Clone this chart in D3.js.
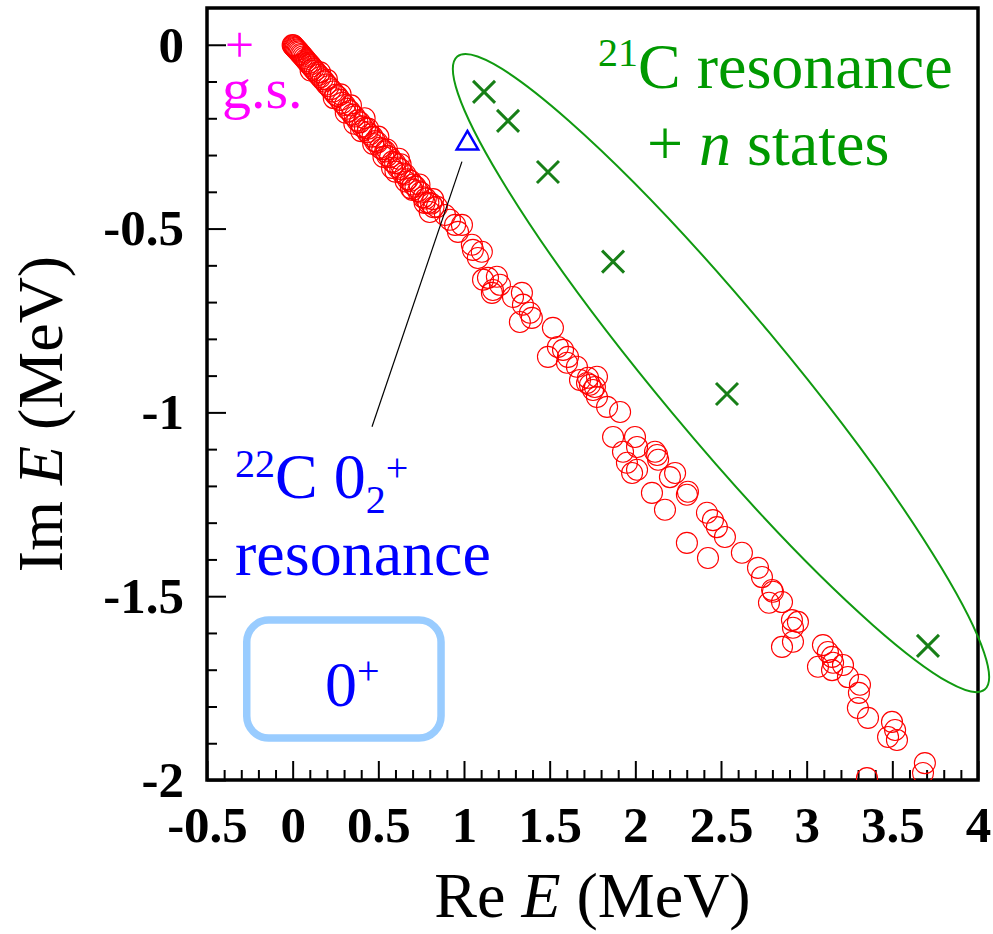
<!DOCTYPE html>
<html>
<head>
<meta charset="utf-8">
<script src="https://cdn.jsdelivr.net/npm/d3@7"></script>
<style>
    body { margin: 0; background: #fff; }
    text { font-family: "Liberation Serif", "Times New Roman", serif; }
</style>
</head>
<body>
<div id="chart"></div>
<script>
const width = 993
const height = 934

// discretized continuum (complex scaling) states, [Re E, Im E] in MeV
const continuum = [
    [0.000, -0.001], [0.003, -0.002], [0.006, -0.004], [0.010, -0.006], [0.014, -0.008], [0.018, -0.010],
    [0.023, -0.013], [0.028, -0.015], [0.034, -0.018], [0.040, -0.021], [0.046, -0.025], [0.053, -0.028],
    [0.060, -0.032], [0.067, -0.036], [0.075, -0.040], [0.083, -0.045], [0.092, -0.050], [0.101, -0.054],
    [0.110, -0.059], [0.120, -0.065], [0.130, -0.070], [0.140, -0.076], [0.151, -0.082], [0.162, -0.088],
    [0.174, -0.094], [0.186, -0.100], [0.198, -0.108], [0.210, -0.113], [0.223, -0.121], [0.236, -0.127],
    [0.250, -0.136], [0.262, -0.140], [0.277, -0.150], [0.290, -0.158], [0.305, -0.164], [0.318, -0.174],
    [0.333, -0.180], [0.348, -0.190], [0.362, -0.195], [0.377, -0.206], [0.392, -0.211], [0.405, -0.222],
    [0.422, -0.226], [0.436, -0.238], [0.450, -0.244], [0.466, -0.250], [0.480, -0.262], [0.495, -0.266],
    [0.510, -0.280], [0.523, -0.284], [0.540, -0.290], [0.552, -0.302], [0.568, -0.306], [0.583, -0.318],
    [0.598, -0.322], [0.612, -0.334], [0.628, -0.338], [0.642, -0.350], [0.658, -0.353], [0.672, -0.366],
    [0.688, -0.370], [0.702, -0.380], [0.717, -0.386], [0.732, -0.398], [0.748, -0.402], [0.762, -0.415],
    [0.777, -0.418], [0.792, -0.430], [0.808, -0.432], [0.822, -0.442],
    [0.360, -0.215], [0.440, -0.228], [0.550, -0.285], [0.580, -0.335], [0.630, -0.325], [0.660, -0.372],
    [0.700, -0.395], [0.770, -0.430],
    [0.105, -0.070], [0.160, -0.075], [0.200, -0.095], [0.240, -0.145], [0.280, -0.135], [0.310, -0.185],
    [0.340, -0.165], [0.400, -0.235], [0.420, -0.200], [0.470, -0.270], [0.500, -0.250], [0.530, -0.305],
    [0.600, -0.345], [0.620, -0.310], [0.690, -0.390], [0.740, -0.380], [0.800, -0.455], [0.820, -0.420],
    [0.842, -0.441], [0.889, -0.463], [0.918, -0.476], [0.948, -0.490], [0.988, -0.490], [0.965, -0.509],
    [1.046, -0.544], [1.052, -0.558], [1.104, -0.563], [1.081, -0.580], [1.111, -0.639], [1.140, -0.634],
    [1.192, -0.631], [1.210, -0.653], [1.169, -0.667], [1.163, -0.675], [1.286, -0.686], [1.338, -0.675],
    [1.344, -0.707], [1.385, -0.729], [1.326, -0.754], [1.396, -0.743], [1.519, -0.770], [1.490, -0.849],
    [1.548, -0.822], [1.578, -0.830], [1.607, -0.849], [1.601, -0.865], [1.659, -0.876], [1.677, -0.912],
    [1.718, -0.920], [1.776, -0.903], [1.753, -0.939],
    [1.724, -0.906], [1.735, -0.925], [1.764, -0.931], [1.776, -0.958], [1.835, -0.985], [1.911, -0.999],
    [1.870, -1.067], [1.998, -1.067], [1.928, -1.107], [2.010, -1.094], [1.951, -1.137], [2.010, -1.156],
    [1.981, -1.165], [2.115, -1.107], [2.133, -1.129], [2.127, -1.116], [2.232, -1.165], [2.202, -1.176],
    [2.097, -1.219], [2.307, -1.216], [2.301, -1.224], [2.173, -1.265], [2.418, -1.273], [2.453, -1.293],
    [2.476, -1.312], [2.523, -1.339], [2.301, -1.355], [2.424, -1.396], [2.622, -1.382],
    [2.716, -1.423], [2.739, -1.448], [2.798, -1.483], [2.803, -1.488], [2.780, -1.518], [2.856, -1.516],
    [2.914, -1.565], [2.949, -1.570], [2.920, -1.586], [2.856, -1.638], [2.920, -1.624], [3.095, -1.633],
    [3.124, -1.652], [3.148, -1.665], [3.066, -1.692], [3.154, -1.681], [3.212, -1.687], [3.148, -1.701],
    [3.241, -1.720], [3.311, -1.741], [3.305, -1.763], [3.299, -1.804], [3.358, -1.831], [3.498, -1.842],
    [3.516, -1.864], [3.475, -1.883], [3.527, -1.891], [3.690, -1.954], [3.679, -1.981], [3.352, -1.995]
]

// 21C resonance + n states
const res21C = [[1.117, -0.128], [1.257, -0.207], [1.490, -0.346], [1.870, -0.590], [2.535, -0.950], [3.708, -1.635]]
// 22C 0_2+ resonance
const res22C = [[1.020, -0.268]]
// ground state
const groundState = [[-0.31, 0]]

const xMajor = [-0.5, 0, 0.5, 1, 1.5, 2, 2.5, 3, 3.5, 4]
const yMajor = [0, -0.5, -1, -1.5, -2]

const x = d3.scaleLinear().domain([-0.5, 4]).range([207, 978])
const y = d3.scaleLinear().domain([-2, 0.1]).range([780, 8])

const svg = d3.select("#chart").append("svg").attr("width", width).attr("height", height)

svg.append("defs").append("clipPath").attr("id", "plotclip")
    .append("rect")
    .attr("x", x.range()[0]).attr("y", y.range()[1])
    .attr("width", x.range()[1] - x.range()[0]).attr("height", y.range()[0] - y.range()[1])

// minor ticks
const xMinor = d3.range(-5, 41).map(d => d / 10).filter(d => !xMajor.includes(d))
const yMinor = d3.range(-20, 1).map(d => d / 10).filter(d => !yMajor.includes(d))

svg.append("g")
    .attr("transform", `translate(0,${y.range()[0]})`)
    .call(d3.axisBottom(x).tickValues(xMinor).tickSizeInner(-10).tickSizeOuter(0).tickFormat(""))
    .call(g => g.select(".domain").remove())
    .call(g => g.selectAll("line").attr("stroke-width", 2))

svg.append("g")
    .attr("transform", `translate(${x.range()[0]},0)`)
    .call(d3.axisLeft(y).tickValues(yMinor).tickSizeInner(-10).tickSizeOuter(0).tickFormat(""))
    .call(g => g.select(".domain").remove())
    .call(g => g.selectAll("line").attr("stroke-width", 2))

// major ticks with labels
svg.append("g")
    .attr("transform", `translate(0,${y.range()[0]})`)
    .call(d3.axisBottom(x).tickValues(xMajor).tickSizeInner(-19).tickSizeOuter(0).tickPadding(26).tickFormat(d => String(d)))
    .call(g => g.select(".domain").remove())
    .call(g => g.selectAll("line").attr("stroke-width", 2))
    .call(g => g.selectAll("text")
        .attr("font-family", "'Liberation Serif', serif")
        .attr("font-weight", "bold")
        .attr("font-size", 51)
        .attr("fill", "#000"))

svg.append("g")
    .attr("transform", `translate(${x.range()[0]},0)`)
    .call(d3.axisLeft(y).tickValues(yMajor).tickSizeInner(-19).tickSizeOuter(0).tickPadding(23).tickFormat(d => String(d)))
    .call(g => g.select(".domain").remove())
    .call(g => g.selectAll("line").attr("stroke-width", 2))
    .call(g => g.selectAll("text")
        .attr("font-family", "'Liberation Serif', serif")
        .attr("font-weight", "bold")
        .attr("font-size", 51)
        .attr("fill", "#000"))

// frame
svg.append("rect")
    .attr("x", x.range()[0]).attr("y", y.range()[1])
    .attr("width", x.range()[1] - x.range()[0]).attr("height", y.range()[0] - y.range()[1])
    .attr("fill", "none").attr("stroke", "#000").attr("stroke-width", 3.5)

// continuum circles
svg.append("g").attr("clip-path", "url(#plotclip)")
    .selectAll("circle")
    .data(continuum)
    .join("circle")
    .attr("cx", d => x(d[0]))
    .attr("cy", d => y(d[1]))
    .attr("r", 10.5)
    .attr("fill", "none")
    .attr("stroke", "#ff0000")
    .attr("stroke-width", 1.1)

// ellipse around 21C + n states
const ellCenter = [2.50, -0.893]
svg.append("ellipse")
    .attr("transform", `translate(${x(ellCenter[0])},${y(ellCenter[1])}) rotate(50.2)`)
    .attr("rx", 412).attr("ry", 63)
    .attr("fill", "none").attr("stroke", "#109a10").attr("stroke-width", 2)

// crosses
svg.append("g")
    .selectAll("path")
    .data(res21C)
    .join("path")
    .attr("transform", d => `translate(${x(d[0])},${y(d[1])})`)
    .attr("d", "M-11,-11L11,11M-11,11L11,-11")
    .attr("stroke", "#177f17").attr("stroke-width", 3).attr("fill", "none")

// triangle
svg.append("g")
    .selectAll("path")
    .data(res22C)
    .join("path")
    .attr("transform", d => `translate(${x(d[0])},${y(d[1])})`)
    .attr("d", d3.symbol(d3.symbolTriangle, 200))
    .attr("stroke", "#0000ff").attr("stroke-width", 2.5).attr("fill", "none")

// ground state plus
svg.append("g")
    .selectAll("path")
    .data(groundState)
    .join("path")
    .attr("transform", d => `translate(${x(d[0])},${y(d[1])})`)
    .attr("d", "M-12,0L12,0M0,-12L0,12")
    .attr("stroke", "#ff00ff").attr("stroke-width", 2.5)

// pointer line
const pointer = [[0.988, -0.318], [0.463, -1.039]]
svg.append("line")
    .attr("x1", x(pointer[0][0])).attr("y1", y(pointer[0][1]))
    .attr("x2", x(pointer[1][0])).attr("y2", y(pointer[1][1]))
    .attr("stroke", "#000").attr("stroke-width", 1.2)

// 0+ box
const box = {x0: -0.268, x1: 0.866, y0: -1.565, y1: -1.886}
svg.append("rect")
    .attr("x", x(box.x0)).attr("y", y(box.y0))
    .attr("width", x(box.x1) - x(box.x0)).attr("height", y(box.y1) - y(box.y0))
    .attr("rx", 22)
    .attr("fill", "none").attr("stroke", "#99ccff").attr("stroke-width", 7.5)

// rich text helper: parts = [text, size, offset, italic]
function richText(px, py, parts, color) {
    const t = svg.append("text").attr("x", px).attr("y", py).attr("fill", color)
    parts.forEach(p => {
        t.append("tspan")
            .attr("y", py + (p[2] || 0))
            .attr("font-size", p[1])
            .attr("font-style", p[3] ? "italic" : "normal")
            .text(p[0])
    })
    return t
}

richText(222, 108, [["g.s.", 58]], "#ff00ff")

richText(598, 88, [["21", 40, -22], ["C resonance", 64]], "#009900")
richText(647, 165, [["+ ", 64], ["n", 64, 0, true], [" states", 64]], "#009900")

richText(235, 498, [["22", 40, -21], ["C 0", 64], ["2", 40, 15], ["+", 40, -17]], "#0000ff")
richText(235, 575, [["resonance", 64]], "#0000ff")

richText(325, 706, [["0", 64], ["+", 40, -22]], "#0000ff")

// axis titles
svg.append("text")
    .attr("x", (x.range()[0] + x.range()[1]) / 2).attr("y", 917)
    .attr("text-anchor", "middle").attr("font-size", 64)
    .call(t => {
        t.append("tspan").text("Re ")
        t.append("tspan").attr("font-style", "italic").text("E")
        t.append("tspan").text(" (MeV)")
    })

svg.append("text")
    .attr("transform", "translate(62,414) rotate(-90)")
    .attr("text-anchor", "middle").attr("font-size", 64)
    .call(t => {
        t.append("tspan").text("Im ")
        t.append("tspan").attr("font-style", "italic").text("E")
        t.append("tspan").text(" (MeV)")
    })
</script>
</body>
</html>
